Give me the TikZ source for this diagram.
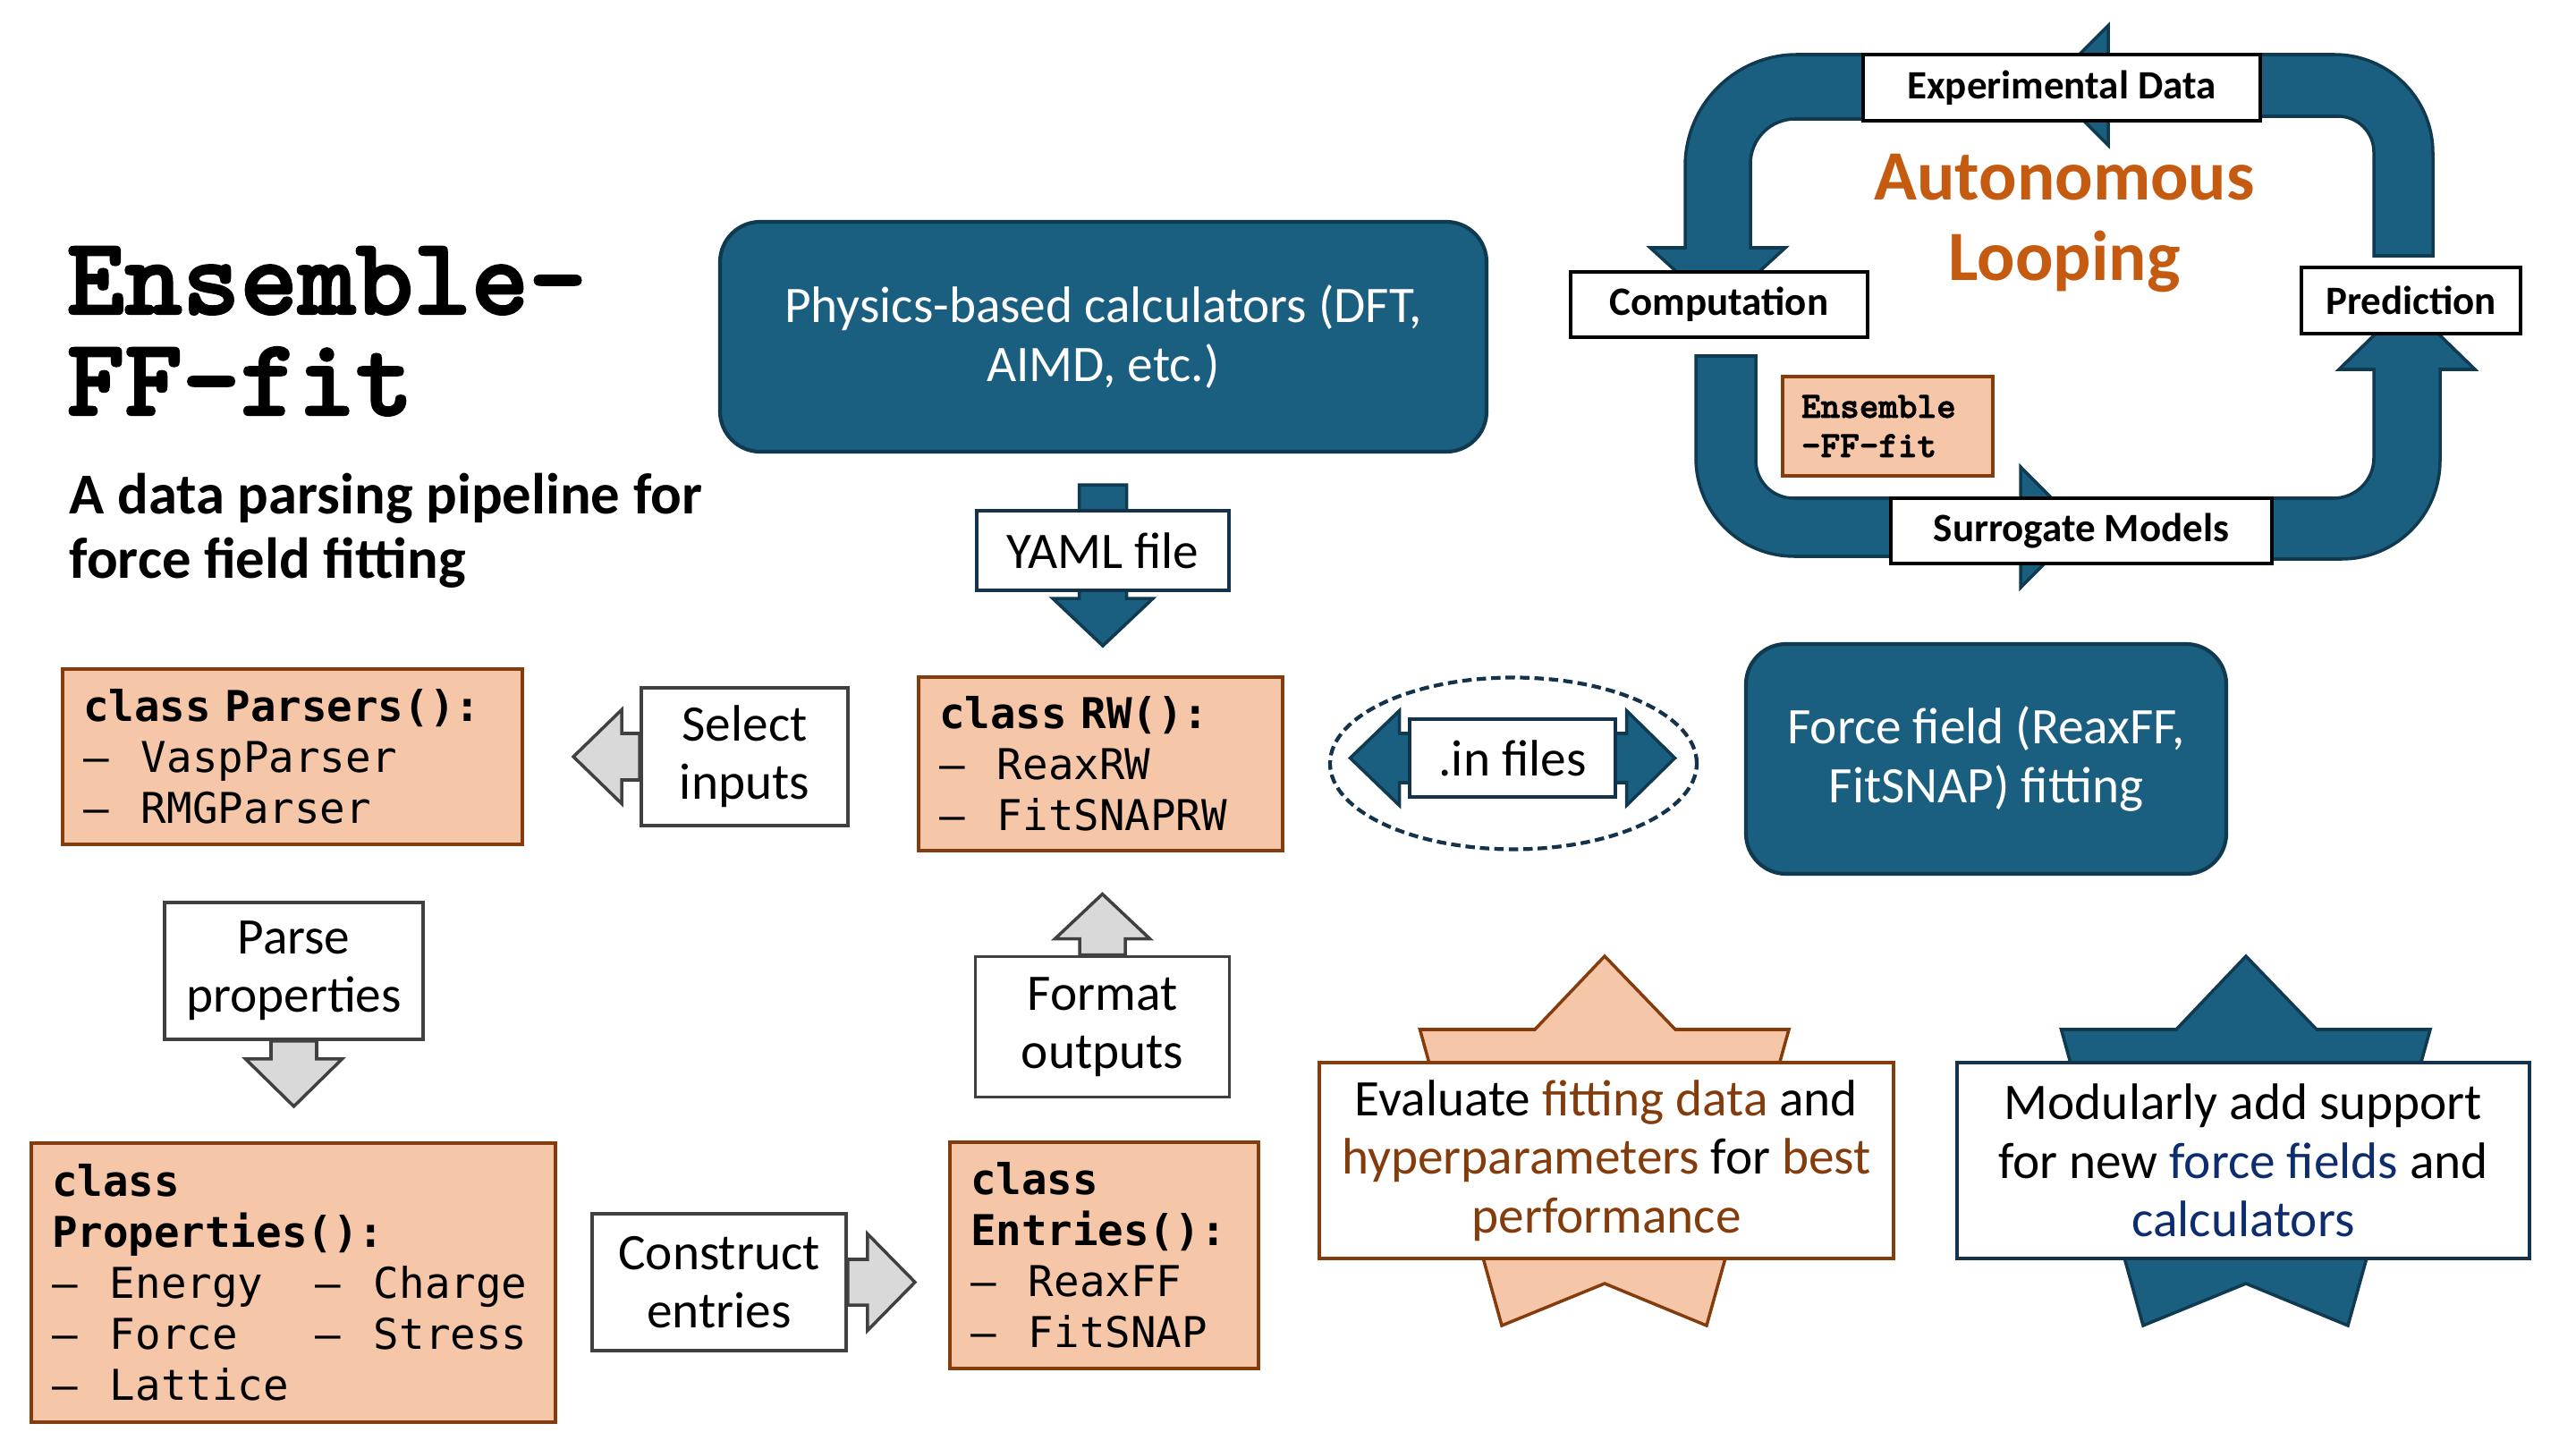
\documentclass[tikz,border=0pt]{standalone}
\usepackage{fontspec}
\setmainfont{Carlito}
\newfontfamily\codefont{DejaVu Sans Mono}
\newfontfamily\titlefont{lmmonolt10-bold.otf}[FakeBold=2]
\usetikzlibrary{calc}

\definecolor{bluefill}{HTML}{1A5E80}
\definecolor{blueline}{HTML}{0F3A50}
\definecolor{peach}{HTML}{F6C6A9}
\definecolor{brn}{HTML}{843C0C}
\definecolor{orng}{HTML}{C55A11}
\definecolor{navytxt}{HTML}{0E2D6E}
\definecolor{navyline}{HTML}{14324A}
\definecolor{lgray}{HTML}{D9D9D9}
\definecolor{dgray}{HTML}{404040}

\newcommand\bodysize{\fontsize{16.3}{18.6}\selectfont}
\newcommand\loopsize{\fontsize{12.8}{15}\selectfont\bfseries}
\newcommand\codesize{\fontsize{13.5}{16.2}\selectfont\codefont}
\newcommand\itm{\makebox[0.65cm][l]{–}}
\def\blockarrow[#1](#2)(#3:#4)(#5/#6/#7){\draw[#1, shift={(#2)}, rotate=#3] (0,-#5) -- ({#4-#7},-#5) -- ({#4-#7},-#6) -- (#4,0) -- ({#4-#7},#6) -- ({#4-#7},#5) -- (0,#5) -- cycle;}

\pgfdeclarelayer{back}
\pgfdeclarelayer{bg}
\pgfsetlayers{back,bg,main}

\tikzset{
	bluearrow/.style={draw=blueline, fill=bluefill, line width=1pt, line join=miter},
	grayarrow/.style={draw=dgray, fill=lgray, line width=1pt},
	bluebox/.style={draw=blueline, fill=bluefill, line width=1.2pt, rounded corners=0.45cm, text=white, align=center, font=\bodysize},
	codebox/.style={draw=brn, fill=peach, line width=1.1pt, inner xsep=0.23cm, align=left, font=\codesize},
	graybox/.style={draw=dgray, fill=white, line width=1.1pt, align=center, font=\bodysize},
	navybox/.style={draw=navyline, fill=white, line width=1.1pt, align=center, font=\bodysize},
	loopbox/.style={draw=black, fill=white, line width=1.2pt, font=\loopsize},
}

\begin{document}
\begin{tikzpicture}
		%%%%% START %%%%%
		\begin{pgfonlayer}{back}
		\fill[white] (0,0) rectangle (28.8,-16.2);
		\end{pgfonlayer}
		\useasboundingbox (0,0) rectangle (28.8,-16.2);
		
		% stars behind the two goal boxes
		\foreach \sx/\fc/\dc in {0/peach/brn, 7.17/bluefill/blueline}
			\draw[fill=\fc, draw=\dc, line width=1pt, xshift=\sx cm] (17.94,-10.69) -- (18.73,-11.51) -- (20.00,-11.51) -- (19.08,-14.82) -- (17.94,-14.35) -- (16.79,-14.82) -- (15.875,-11.51) -- (17.16,-11.51) -- cycle;
		
		% the loop
		\draw[bluearrow] (21.5,-0.61) -- (20.09,-0.61) arc (90:180:1.25) -- (18.84,-2.77) -- (18.45,-2.77) -- (19.205,-3.46) -- (19.96,-2.77) -- (19.57,-2.77) -- (19.57,-1.83) arc (180:90:0.5) -- (21.5,-1.33) -- cycle;
		\draw[bluearrow] (18.96,-3.98) -- (18.96,-5.12) arc (180:270:1.1) -- (22.59,-6.22) -- (22.59,-6.57) -- (23.26,-5.895) -- (22.59,-5.22) -- (22.59,-5.57) -- (20.05,-5.57) arc (270:180:0.42) -- (19.63,-3.98) -- cycle;
		\draw[bluearrow] (24.8,-6.25) -- (26.18,-6.25) arc (270:360:1.1) -- (27.28,-4.13) -- (27.67,-4.13) -- (26.91,-3.39) -- (26.15,-4.13) -- (26.54,-4.13) -- (26.54,-5.12) arc (0:-90:0.45) -- (24.8,-5.57) -- cycle;
		\draw[bluearrow] (27.20,-2.86) -- (27.20,-1.71) arc (0:90:1.1) -- (23.57,-0.61) -- (23.57,-0.285) -- (22.90,-0.955) -- (23.57,-1.625) -- (23.57,-1.30) -- (26.14,-1.30) arc (90:0:0.4) -- (26.54,-2.86) -- cycle;
		
		\node[loopbox, minimum width=4.44cm, minimum height=0.74cm] (expdata) at (23.05,-0.98) {Experimental Data};
		\node[loopbox, minimum width=3.32cm, minimum height=0.73cm] (comp) at (19.22,-3.405) {Computation};
		\node[loopbox, minimum width=2.45cm, minimum height=0.74cm] (pred) at (26.955,-3.36) {Prediction};
		\node[loopbox, minimum width=4.26cm, minimum height=0.73cm] (surr) at (23.27,-5.935) {Surrogate Models};
		\node[draw=brn, fill=peach, line width=1.1pt, inner xsep=0.21cm, minimum width=2.35cm, minimum height=1.11cm, text width=1.93cm, align=left, font=\fontsize{11.7}{12.5}\selectfont\titlefont] (ensfit) at (21.105,-4.765) {Ensemble\\-FF-fit};
		\node[text=orng, align=center, font=\fontsize{22.5}{25.6}\selectfont\bfseries] (auto) at (23.08,-2.50) {Autonomous\\Looping};
		
		% title
		\node[anchor=base west, inner sep=0, font=\fontsize{35}{32}\selectfont\titlefont] (title1) at (0.74,-3.51) {Ensemble-};
		\node[anchor=base west, inner sep=0, font=\fontsize{35}{32}\selectfont\titlefont] (title2) at (0.74,-4.64) {FF-fit};
		\node[anchor=base west, inner sep=0, align=left, font=\fontsize{18.4}{20.5}\selectfont\bfseries] (subt) at (0.77,-6.47) {A data parsing pipeline for\\force field fitting};
		
		% pipeline
		\node[bluebox, minimum width=8.57cm, minimum height=2.57cm] (phys) at (12.335,-3.765) {Physics-based calculators (DFT,\\AIMD, etc.)};
		\node[bluebox, minimum width=5.37cm, minimum height=2.57cm] (ffbox) at (22.205,-8.485) {Force field (ReaxFF,\\FitSNAP) fitting};
		
		\node[codebox, minimum width=5.14cm, minimum height=1.96cm, text width=4.68cm] (parsers) at (3.27,-8.46) {\textbf{class Parsers():}\\\itm VaspParser\\\itm RMGParser};
		\node[codebox, minimum width=4.07cm, minimum height=1.94cm, text width=3.61cm] (rw) at (12.305,-8.54) {\textbf{class RW():}\\\itm ReaxRW\\\itm FitSNAPRW};
		\node[codebox, minimum width=3.45cm, minimum height=2.53cm, text width=2.99cm] (entries) at (12.345,-14.035) {\textbf{class}\\\textbf{Entries():}\\\itm ReaxFF\\\itm FitSNAP};
		\node[codebox, minimum width=5.86cm, minimum height=3.12cm, text width=5.40cm] (props) at (3.28,-14.34) {\textbf{class}\\\textbf{Properties():}\\\makebox[2.95cm][l]{\itm Energy}\itm Charge\\\makebox[2.95cm][l]{\itm Force}\itm Stress\\\itm Lattice};
		
		\node[graybox, minimum width=2.31cm, minimum height=1.54cm] (sel) at (8.325,-8.46) {Select\\inputs};
		\node[graybox, minimum width=2.89cm, minimum height=1.53cm] (parse) at (3.285,-10.855) {Parse\\properties};
		\node[graybox, minimum width=2.84cm, minimum height=1.53cm] (cons) at (8.04,-14.335) {Construct\\entries};
		\node[graybox, minimum width=2.84cm, minimum height=1.57cm] (fmt) at (12.325,-11.48) {Format\\outputs};
		
		\node[navybox, minimum width=2.82cm, minimum height=0.89cm] (yaml) at (12.33,-6.155) {YAML file};
		\node[navybox, minimum width=2.30cm, minimum height=0.87cm] (infiles) at (16.91,-8.475) {.in files};
		\draw[navyline, line width=1.2pt, dash pattern=on 3pt off 1.6pt] (16.92,-8.535) ellipse [x radius=2.05, y radius=0.96];
		
		\node[draw=brn, fill=white, line width=1.2pt, minimum width=6.42cm, minimum height=2.19cm, align=center, font=\bodysize] (evalbox) at (17.96,-12.975) {Evaluate \textcolor{brn}{fitting data} and\\\textcolor{brn}{hyperparameters} for \textcolor{brn}{best}\\\textcolor{brn}{performance}};
		\node[draw=navyline, fill=white, line width=1.2pt, minimum width=6.40cm, minimum height=2.19cm, align=center, font=\bodysize] (modbox) at (25.08,-12.975) {Modularly add support\\for new \textcolor{navytxt}{force fields} and\\\textcolor{navytxt}{calculators}};
		
		% block arrows
		\coordinate (yamltop) at ($(yaml.north)+(0,0.27)$);
		\begin{pgfonlayer}{bg}
		\blockarrow[grayarrow](sel.west)(180:0.74)(0.26/0.525/0.54)
		\blockarrow[grayarrow](parse.south)(-90:0.73)(0.255/0.54/0.53)
		\blockarrow[grayarrow](cons.east)(0:0.75)(0.255/0.54/0.53)
		\blockarrow[grayarrow](fmt.north)(90:0.68)(0.255/0.53/0.50)
		\blockarrow[bluearrow](yamltop)(-90:1.80)(0.265/0.56/0.53)
		\blockarrow[bluearrow](infiles.center)(180:1.815)(0.275/0.53/0.55)
		\blockarrow[bluearrow](infiles.center)(0:1.815)(0.275/0.53/0.54)
		\end{pgfonlayer}
		%%%%% END %%%%%
\end{tikzpicture}
\end{document}
